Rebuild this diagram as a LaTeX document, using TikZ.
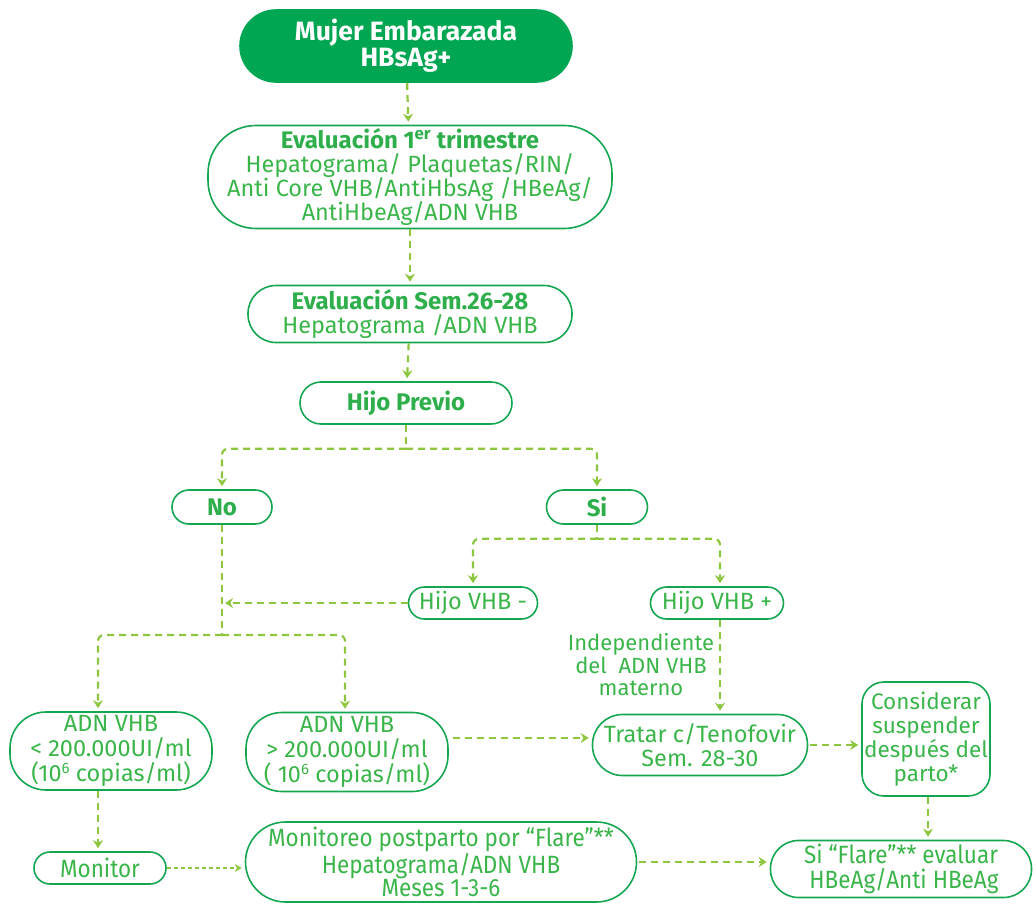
\documentclass[tikz,border=0pt]{standalone}
\usepackage{fontspec}
\setmainfont{Fira Sans}
\newfontfamily\condfont[FakeStretch=0.9]{Fira Sans}
\usetikzlibrary{arrows.meta,calc}
\definecolor{nodeline}{HTML}{14A650}
\definecolor{txtgreen}{HTML}{3AB54A}
\definecolor{hdgreen}{HTML}{2EAF4B}
\definecolor{topfill}{HTML}{00A651}
\definecolor{conncol}{HTML}{8DC63F}
\tikzset{
  box/.style={draw=nodeline, line width=1.6pt, align=center, text=txtgreen, inner sep=0pt,
    font=\fontsize{23.5}{24}\selectfont},
  conn/.style={draw=conncol, line width=2.2pt, dash pattern=on 7pt off 5pt,
    -{Stealth[length=8pt,width=10pt]}, shorten >=3pt},
  plain/.style={draw=conncol, line width=2.2pt, dash pattern=on 7pt off 5pt},
  fine/.style={draw=conncol, line width=1.4pt, dash pattern=on 4pt off 3pt,
    -{Stealth[length=7pt,width=8pt]}, shorten >=3pt},
  bottomfont/.style={font=\condfont\fontsize{25}{23.5}\selectfont}
}
\newcommand{\hdtxt}[1]{{\fontsize{24}{24}\selectfont\bfseries\color{hdgreen}#1}}
\newcommand{\supsix}{\raisebox{8pt}{\fontsize{15}{15}\selectfont 6}}
\begin{document}
\begin{tikzpicture}[x=1pt,y=-1pt]
\useasboundingbox (0,0) rectangle (1036,904);
% nodes
\node[box, fill=topfill, draw=topfill, text=white, minimum width=332pt, minimum height=72pt,
  rounded corners=36pt, font=\fontsize{26.5}{26}\selectfont\bfseries] (top) at (406,46)
  {Mujer Embarazada\\HBsAg+};
\node[box, minimum width=404pt, minimum height=103pt, rounded corners=48pt] (ev1) at (410,177)
  {\hdtxt{Evaluación 1\textsuperscript{er} trimestre}\\
   Hepatograma/ Plaquetas/RIN/\\Anti Core VHB/AntiHbsAg /HBeAg/\\AntiHbeAg/ADN VHB};
\node[box, minimum width=324pt, minimum height=57pt, rounded corners=28pt] (ev2) at (410,314)
  {\hdtxt{Evaluación Sem.26-28}\\Hepatograma /ADN VHB};
\node[box, minimum width=212pt, minimum height=42pt, rounded corners=21pt] (hp) at (406,403)
  {\hdtxt{Hijo Previo}};
\node[box, minimum width=100pt, minimum height=34pt, rounded corners=17pt] (no) at (222,507)
  {\hdtxt{No}};
\node[box, minimum width=101pt, minimum height=34pt, rounded corners=17pt] (si) at (597,507)
  {\hdtxt{Si}};
\node[box, minimum width=129pt, minimum height=32pt, rounded corners=16pt] (hm) at (473,603)
  {Hijo VHB -};
\node[box, minimum width=133pt, minimum height=32pt, rounded corners=16pt] (hpos) at (717,603)
  {Hijo VHB +};
\node[box, minimum width=202pt, minimum height=78pt, rounded corners=36pt,
  font=\fontsize{23.5}{25}\selectfont] (adn1) at (111,751)
  {ADN VHB\\< 200.000UI/ml\\(10\supsix{} copias/ml)};
\node[box, minimum width=202pt, minimum height=79pt, rounded corners=36pt,
  font=\fontsize{23.5}{25}\selectfont] (adn2) at (347,752)
  {ADN VHB\\> 200.000UI/ml\\( 10\supsix{} copias/ml)};
\node[text=txtgreen, align=center, inner sep=0pt, font=\fontsize{22}{22.5}\selectfont] (indep) at (641,665)
  {Independiente\\del\ \ ADN VHB\\materno};
\node[box, minimum width=215pt, minimum height=61pt, rounded corners=30pt] (trat) at (700,745)
  {Tratar c/Tenofovir\\Sem. 28-30};
\node[box, minimum width=128pt, minimum height=114pt, rounded corners=22pt,
  font=\fontsize{22.5}{24}\selectfont] (cons) at (926,739)
  {Considerar\\suspender\\después del\\parto*};
\node[box, minimum width=132pt, minimum height=32pt, rounded corners=16pt, bottomfont] (mon) at (100,868) {Monitor};
\node[box, minimum width=391pt, minimum height=80pt, rounded corners=40pt, bottomfont] (mont) at (441,862)
  {Monitoreo postparto por “Flare”**\\Hepatograma/ADN VHB\\Meses 1-3-6};
\node[box, minimum width=261pt, minimum height=57pt, rounded corners=28pt,
  font=\condfont\fontsize{25}{25}\selectfont] (sif) at (901,869)
  {Si “Flare”** evaluar\\\ HBeAg/Anti HBeAg};
% connectors
\draw[conn] (top) -- (ev1);
\draw[conn] (ev1) -- (ev2);
\draw[conn] (ev2) -- (hp);
\draw[plain] (hp.south) -- ++(0,24) coordinate (hpb);
\draw[conn, rounded corners=6pt] (hpb) -| (no.north);
\draw[conn, rounded corners=6pt] (hpb) -| (si.north);
\draw[plain] (si.south) -- ++(0,14) coordinate (sib);
\draw[conn, rounded corners=6pt] (sib) -| (hm.north);
\draw[conn, rounded corners=6pt] (sib) -| ([xshift=3pt]hpos.north);
\draw[plain] (no.south) -- (222,635) coordinate (nob);
\draw[conn] (hm.west) -- (no.south |- hm.west);
\draw[conn, rounded corners=6pt] (nob) -| ([xshift=-13pt]adn1.north);
\draw[conn, rounded corners=6pt] (nob) -| ([xshift=-2pt]adn2.north);
\draw[conn] ([xshift=3pt]hpos.south) -- ([xshift=3pt]hpos.south |- trat.north);
\draw[conn] ([yshift=14pt,xshift=4pt]adn2.east) -- ([yshift=14pt]adn2.east -| trat.west);
\draw[conn] ([xshift=2pt]trat.east) -- (trat.east -| cons.west);
\draw[conn] ([xshift=2pt]cons.south) -- ([xshift=2pt]cons.south |- sif.north);
\draw[conn] ([xshift=-13pt]adn1.south) -- ([xshift=-13pt]adn1.south |- mon.north);
\draw[fine] (mon.east) -- (mon.east -| mont.west);
\draw[conn] ([xshift=2pt]mont.east) -- (mont.east -| sif.west);
\end{tikzpicture}
\end{document}
